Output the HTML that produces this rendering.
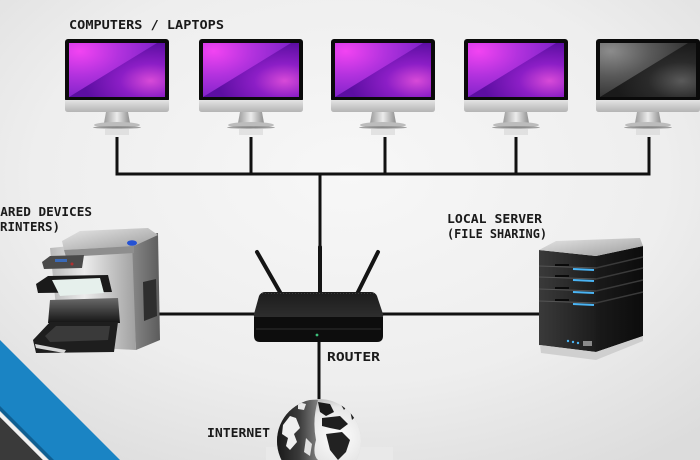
<!DOCTYPE html>
<html><head><meta charset="utf-8">
<style>
html,body{margin:0;padding:0;width:700px;height:460px;overflow:hidden;background:#ececec}
svg{display:block;overflow:hidden}
text{font-family:"DejaVu Sans Mono","Liberation Mono",monospace;font-weight:bold;font-size:12px;fill:#1a1a1a}
</style></head>
<body>
<svg width="700" height="460" viewBox="0 0 700 460" xmlns="http://www.w3.org/2000/svg">
<defs>
  <radialGradient id="bg" cx="0.5" cy="0.38" r="0.75">
    <stop offset="0" stop-color="#f7f7f7"/>
    <stop offset="0.6" stop-color="#eeeeee"/>
    <stop offset="1" stop-color="#dcdcdc"/>
  </radialGradient>
  <radialGradient id="scrP" cx="0.85" cy="0.7" r="0.7">
    <stop offset="0" stop-color="#d84ad8"/>
    <stop offset="0.45" stop-color="#8c1ec6"/>
    <stop offset="1" stop-color="#5c0ea2"/>
  </radialGradient>
  <radialGradient id="scrPhi" cx="0.12" cy="0.15" r="0.9">
    <stop offset="0" stop-color="#f244f2"/>
    <stop offset="0.5" stop-color="#b232de"/>
    <stop offset="1" stop-color="#7e22c8"/>
  </radialGradient>
  <radialGradient id="scrG" cx="0.85" cy="0.7" r="0.7">
    <stop offset="0" stop-color="#5a5a5a"/>
    <stop offset="0.5" stop-color="#2a2a2a"/>
    <stop offset="1" stop-color="#1a1a1a"/>
  </radialGradient>
  <radialGradient id="scrGhi" cx="0.12" cy="0.15" r="0.9">
    <stop offset="0" stop-color="#8c8c8c"/>
    <stop offset="0.5" stop-color="#5a5a5a"/>
    <stop offset="1" stop-color="#333333"/>
  </radialGradient>
  <linearGradient id="chin" x1="0" y1="0" x2="0" y2="1">
    <stop offset="0" stop-color="#e4e4e4"/>
    <stop offset="1" stop-color="#b4b4b4"/>
  </linearGradient>
  <linearGradient id="neck" x1="0" y1="0" x2="1" y2="0">
    <stop offset="0" stop-color="#9a9a9a"/>
    <stop offset="0.5" stop-color="#ececec"/>
    <stop offset="1" stop-color="#8e8e8e"/>
  </linearGradient>
  <linearGradient id="rtop" x1="0" y1="0" x2="0" y2="1">
    <stop offset="0" stop-color="#1c1c1c"/>
    <stop offset="1" stop-color="#2e2e2e"/>
  </linearGradient>
  <linearGradient id="srvTop" x1="0" y1="0" x2="1" y2="1">
    <stop offset="0" stop-color="#e6e6e6"/>
    <stop offset="1" stop-color="#9c9c9c"/>
  </linearGradient>
  <linearGradient id="srvFront" x1="0" y1="0" x2="1" y2="0">
    <stop offset="0" stop-color="#3a3a3a"/>
    <stop offset="1" stop-color="#1c1c1c"/>
  </linearGradient>
  <linearGradient id="srvSide" x1="0" y1="0" x2="1" y2="0">
    <stop offset="0" stop-color="#1a1a1a"/>
    <stop offset="1" stop-color="#0c0c0c"/>
  </linearGradient>
  <linearGradient id="prnFront" x1="0" y1="0" x2="1" y2="0">
    <stop offset="0" stop-color="#b8b8b8"/>
    <stop offset="0.4" stop-color="#ececec"/>
    <stop offset="1" stop-color="#a0a0a0"/>
  </linearGradient>
  <linearGradient id="prnSide" x1="0" y1="0" x2="1" y2="0">
    <stop offset="0" stop-color="#8a8a8a"/>
    <stop offset="1" stop-color="#5c5c5c"/>
  </linearGradient>
  <linearGradient id="prnLid" x1="0" y1="0" x2="1" y2="1">
    <stop offset="0" stop-color="#e8e8e8"/>
    <stop offset="1" stop-color="#9a9a9a"/>
  </linearGradient>
  <linearGradient id="cav" x1="0" y1="0" x2="0" y2="1">
    <stop offset="0" stop-color="#6a6a6a"/>
    <stop offset="1" stop-color="#141414"/>
  </linearGradient>
  <radialGradient id="globe" cx="0.72" cy="0.45" r="0.8">
    <stop offset="0" stop-color="#ffffff"/>
    <stop offset="0.45" stop-color="#e6e6e6"/>
    <stop offset="0.75" stop-color="#9a9a9a"/>
    <stop offset="1" stop-color="#444444"/>
  </radialGradient>
  <linearGradient id="globeDark" x1="0" y1="0" x2="1" y2="0">
    <stop offset="0" stop-color="#0e0e0e"/>
    <stop offset="0.6" stop-color="#3a3a3a"/>
    <stop offset="1" stop-color="#808080"/>
  </linearGradient>
  <clipPath id="gclip"><circle cx="319" cy="441" r="42"/></clipPath>
  <clipPath id="frame"><rect x="0" y="0" width="700" height="460"/></clipPath>

  <g id="monP">
    <rect x="0" y="0" width="104" height="63" rx="3" fill="#0a0a0a"/>
    <rect x="4" y="4" width="96" height="54" fill="url(#scrP)"/>
    <polygon points="4,4 92,4 4,58" fill="url(#scrPhi)"/>
    <path d="M0,61 H104 V70 Q104,73 101,73 H3 Q0,73 0,70 Z" fill="url(#chin)"/>
    <polygon points="41,73 63,73 65,84 39,84" fill="url(#neck)"/>
    <ellipse cx="52" cy="86" rx="23" ry="3" fill="#bcbcbc"/>
    <ellipse cx="52" cy="88.5" rx="24" ry="1.2" fill="#666" opacity="0.6"/>
    <rect x="40" y="90" width="24" height="6" fill="#cfcfcf" opacity="0.5"/>
  </g>
  <g id="monG">
    <rect x="0" y="0" width="104" height="63" rx="3" fill="#0a0a0a"/>
    <rect x="4" y="4" width="96" height="54" fill="url(#scrG)"/>
    <polygon points="4,4 92,4 4,58" fill="url(#scrGhi)"/>
    <path d="M0,61 H104 V70 Q104,73 101,73 H3 Q0,73 0,70 Z" fill="url(#chin)"/>
    <polygon points="41,73 63,73 65,84 39,84" fill="url(#neck)"/>
    <ellipse cx="52" cy="86" rx="23" ry="3" fill="#bcbcbc"/>
    <ellipse cx="52" cy="88.5" rx="24" ry="1.2" fill="#666" opacity="0.6"/>
    <rect x="40" y="90" width="24" height="6" fill="#cfcfcf" opacity="0.5"/>
  </g>
</defs>

<g clip-path="url(#frame)">
<rect x="0" y="0" width="700" height="460" fill="url(#bg)"/>

<!-- bottom-left stripes -->
<polygon points="0,417 43,460 0,460" fill="#3a3a3a"/>
<polygon points="0,412 48,460 43,460 0,417" fill="#f2f2f2"/>
<polygon points="0,340 120,460 52,460 0,408" fill="#1a84c4"/>
<polygon points="0,406 54,460 49,460 0,411" fill="#0f5f92"/>

<!-- subtle box under globe -->
<rect x="266" y="447" width="127" height="13" fill="#e9e9e9"/>

<!-- connectors -->
<g stroke="#111" stroke-width="3" fill="none">
  <line x1="115.5" y1="174" x2="650.5" y2="174"/>
  <line x1="117" y1="137" x2="117" y2="175"/>
  <line x1="251" y1="137" x2="251" y2="175"/>
  <line x1="385" y1="137" x2="385" y2="175"/>
  <line x1="516" y1="137" x2="516" y2="175"/>
  <line x1="649" y1="137" x2="649" y2="175"/>
  <line x1="320" y1="174" x2="320" y2="300"/>
  <line x1="158" y1="314" x2="262" y2="314"/>
  <line x1="378" y1="314" x2="541" y2="314"/>
  <line x1="319" y1="338" x2="319" y2="402"/>
</g>

<!-- monitors -->
<use href="#monP" x="65" y="39"/>
<use href="#monP" x="199" y="39"/>
<use href="#monP" x="331" y="39"/>
<use href="#monP" x="464" y="39"/>
<use href="#monG" x="596" y="39"/>

<!-- router -->
<g>
  <line x1="257" y1="252" x2="281" y2="294" stroke="#141414" stroke-width="4" stroke-linecap="round"/>
  <line x1="378" y1="252" x2="357" y2="294" stroke="#141414" stroke-width="4" stroke-linecap="round"/>
  <line x1="320" y1="247" x2="320" y2="294" stroke="#141414" stroke-width="4" stroke-linecap="round"/>
  <path d="M265,292 H371 Q375,292 377,296 L383,314 Q384,318 380,318 H257 Q253,318 254,314 L259,296 Q261,292 265,292 Z" fill="url(#rtop)"/>
  <path d="M254,317 H383 V336 Q383,342 377,342 H260 Q254,342 254,336 Z" fill="#0d0d0d"/>
  <line x1="256" y1="329" x2="381" y2="329" stroke="#2e2e2e" stroke-width="1"/>
  <line x1="262" y1="293.5" x2="374" y2="293.5" stroke="#3a3a3a" stroke-width="1" stroke-dasharray="1,2"/>
  <circle cx="317" cy="335" r="1.4" fill="#3cbf7a"/>
</g>

<!-- printer -->
<g>
  <polygon points="130,238 158,233 160,340 136,350" fill="url(#prnSide)"/>
  <polygon points="143,282 156,279 157,316 144,321" fill="#2e2e2e"/>
  <polygon points="50,248 132,240 136,350 60,346" fill="url(#prnFront)"/>
  <polygon points="62,241 80,231 148,228 158,235 134,246 64,250" fill="url(#prnLid)"/>
  <polygon points="64,250 134,246 134,253 66,257" fill="#8e8e8e"/>
  <ellipse cx="132" cy="243" rx="5" ry="2.8" fill="#2452d4"/>
  <polygon points="42,262 50,256 84,255 82,268 44,269" fill="#4a4a4a"/>
  <rect x="55" y="259" width="12" height="3" fill="#3a6ab8"/>
  <circle cx="72" cy="264" r="1.5" fill="#b03030"/>
  <polygon points="36,284 48,276 108,275 112,292 38,293" fill="#1a1a1a"/>
  <polygon points="52,280 100,278 104,293 60,296" fill="#e6f0ec"/>
  <polygon points="50,300 118,298 120,323 48,323" fill="url(#cav)"/>
  <polygon points="33,340 50,322 118,322 114,352 36,353" fill="#1e1e1e"/>
  <polygon points="45,336 56,326 110,326 108,340 50,342" fill="#3a3a3a"/>
  <polygon points="35,344 66,350 64,353 36,348" fill="#d8d8d8"/>
</g>

<!-- server -->
<g>
  <polygon points="539,250 596,256 596,352 539,345" fill="url(#srvFront)"/>
  <polygon points="596,256 643,246 643,336 596,352" fill="url(#srvSide)"/>
  <polygon points="539,250 556,241 640,238 643,246 596,256" fill="url(#srvTop)"/>
  <g stroke="#555" stroke-width="1">
    <line x1="539" y1="266" x2="596" y2="268"/>
    <line x1="539" y1="277" x2="596" y2="279"/>
    <line x1="539" y1="289" x2="596" y2="291"/>
    <line x1="539" y1="301" x2="596" y2="303"/>
  </g>
  <g stroke="#3a3a3a" stroke-width="1.5">
    <line x1="596" y1="268" x2="643" y2="257"/>
    <line x1="596" y1="279" x2="643" y2="268"/>
    <line x1="596" y1="291" x2="643" y2="280"/>
    <line x1="596" y1="303" x2="643" y2="292"/>
  </g>
  <g stroke="#4ab4f4" stroke-width="2">
    <line x1="573" y1="269" x2="594" y2="270"/>
    <line x1="573" y1="280" x2="594" y2="281"/>
    <line x1="573" y1="292" x2="594" y2="293"/>
    <line x1="573" y1="304" x2="594" y2="305"/>
  </g>
  <g fill="#0a0a0a">
    <rect x="555" y="264" width="14" height="2"/>
    <rect x="555" y="275" width="14" height="2"/>
    <rect x="555" y="287" width="14" height="2"/>
    <rect x="555" y="299" width="14" height="2"/>
  </g>
  <circle cx="568" cy="341" r="1.2" fill="#4ab4f4"/>
  <circle cx="573" cy="342" r="1.2" fill="#4ab4f4"/>
  <circle cx="578" cy="343" r="1.2" fill="#4ab4f4"/>
  <rect x="583" y="341" width="9" height="5" fill="#8a8a8a"/>
  <polygon points="540,345 596,352 643,336 643,341 596,360 541,353" fill="#cfcfcf"/>
</g>

<!-- globe -->
<g clip-path="url(#gclip)">
  <rect x="277" y="399" width="84" height="61" fill="#dddddd"/>
  <circle cx="319" cy="441" r="42" fill="url(#globe)"/>
  <path d="M270,400 L318,400 Q312,420 316,440 Q312,455 318,460 L270,460 Z" fill="url(#globeDark)"/>
  <path d="M283,425 L290,416 L296,418 L300,428 L294,434 L297,442 L290,450 L286,446 L288,438 L282,434 Z" fill="#f0f0f0"/>
  <path d="M298,402 L306,404 L304,410 L298,409 Z" fill="#e8e8e8"/>
  <path d="M306,438 L312,444 L310,456 L304,452 Z" fill="#e0e0e0"/>
  <path d="M318,402 L330,404 L334,412 L326,416 L320,412 Z" fill="#1a1a1a"/>
  <path d="M322,418 L340,416 L348,424 L340,430 L330,428 L322,426 Z" fill="#1e1e1e"/>
  <path d="M326,434 L342,432 L350,440 L346,452 L338,460 L330,450 Z" fill="#222"/>
  <path d="M350,410 L356,416 L352,420 Z" fill="#222"/>
  <path d="M340,403 L348,405 L344,410 Z" fill="#2a2a2a"/>
</g>

<!-- labels -->
<text x="69" y="29" textLength="155" lengthAdjust="spacingAndGlyphs">COMPUTERS / LAPTOPS</text>
<text x="-15" y="216" textLength="107" lengthAdjust="spacingAndGlyphs">SHARED DEVICES</text>
<text x="-15" y="231" textLength="75" lengthAdjust="spacingAndGlyphs">(PRINTERS)</text>
<text x="447" y="223" textLength="95" lengthAdjust="spacingAndGlyphs">LOCAL SERVER</text>
<text x="447" y="238" textLength="100" lengthAdjust="spacingAndGlyphs">(FILE SHARING)</text>
<text x="327" y="361" textLength="53" lengthAdjust="spacingAndGlyphs">ROUTER</text>
<text x="207" y="437" textLength="63" lengthAdjust="spacingAndGlyphs">INTERNET</text>
</g>
</svg>
</body></html>
